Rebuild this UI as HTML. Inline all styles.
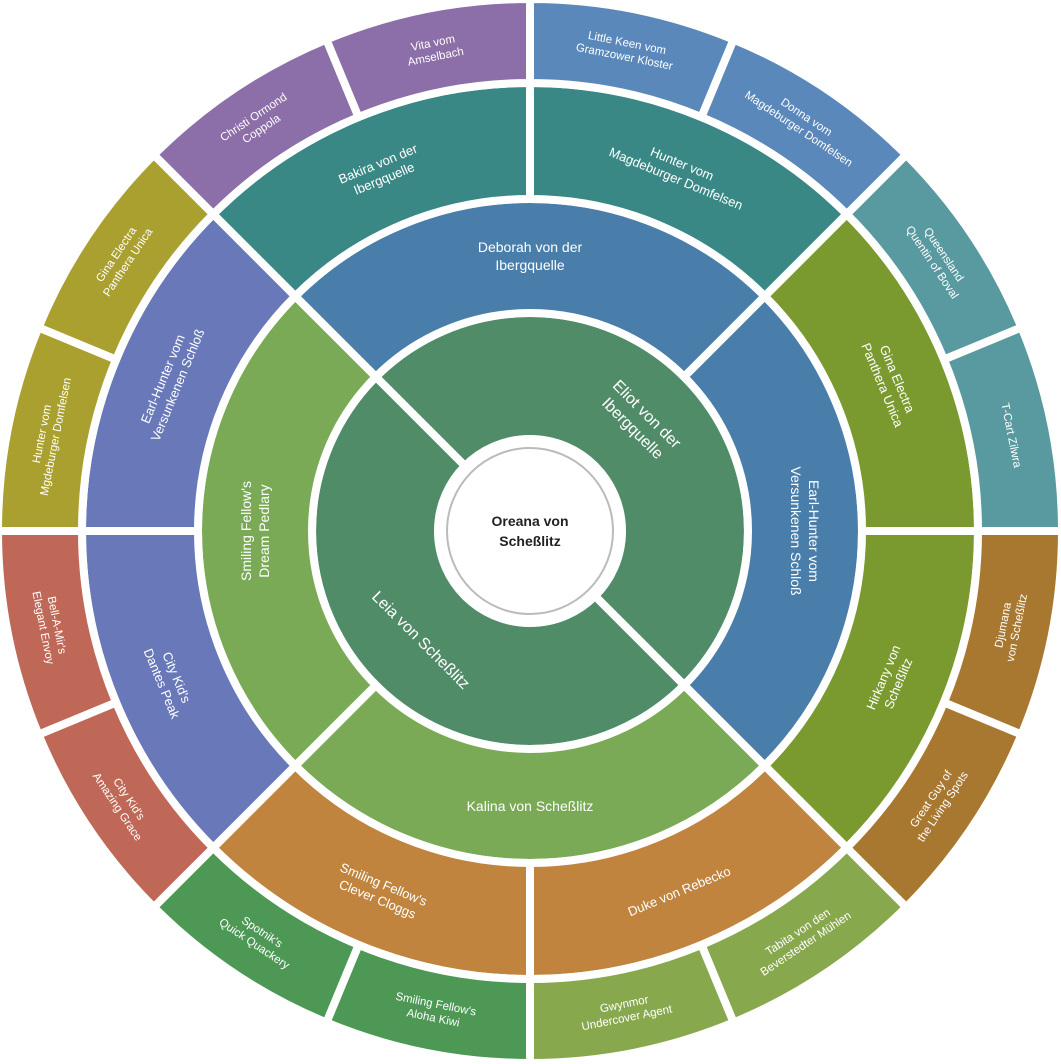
<!DOCTYPE html>
<html><head><meta charset="utf-8"><style>
html,body{margin:0;padding:0;background:#fff;}
svg{display:block;}
text{font-family:"Liberation Sans",sans-serif;fill:#fff;text-anchor:middle;dominant-baseline:central;}
.s path{stroke:#fff;stroke-width:8;stroke-linejoin:miter;}
.l1{font-size:16px;}.l2{font-size:14px;}.l3{font-size:13px;}.l4{font-size:11.5px;}
</style></head><body>
<svg width="1061" height="1064" viewBox="0 0 1061 1064" xmlns="http://www.w3.org/2000/svg">
<defs>
<path id="p1" d="M0,-218 A218,218 0 0 1 0,218 L0,92 A92,92 0 0 0 0,-92 Z"/>
<path id="p2" d="M0,-332 A332,332 0 0 1 332,0 L218,0 A218,218 0 0 0 0,-218 Z"/>
<path id="p3" d="M0,-448 A448,448 0 0 1 316.78,-316.78 L234.76,-234.76 A332,332 0 0 0 0,-332 Z"/>
<path id="p4" d="M0,-532 A532,532 0 0 1 203.59,-491.50 L171.44,-413.90 A448,448 0 0 0 0,-448 Z"/>
</defs>
<g transform="translate(530,531)">
<g class="s">
<use href="#p1" transform="rotate(-45)" fill="#518c69" stroke="#fff" stroke-width="8"/>
<use href="#p1" transform="rotate(135)" fill="#518c69" stroke="#fff" stroke-width="8"/>
<use href="#p2" transform="rotate(-45)" fill="#4a7eaa" stroke="#fff" stroke-width="8"/>
<use href="#p2" transform="rotate(45)" fill="#4a7eaa" stroke="#fff" stroke-width="8"/>
<use href="#p2" transform="rotate(135)" fill="#7aaa56" stroke="#fff" stroke-width="8"/>
<use href="#p2" transform="rotate(225)" fill="#7aaa56" stroke="#fff" stroke-width="8"/>
<use href="#p3" transform="rotate(-45)" fill="#3a8886" stroke="#fff" stroke-width="8"/>
<use href="#p3" transform="rotate(0)" fill="#3a8886" stroke="#fff" stroke-width="8"/>
<use href="#p3" transform="rotate(45)" fill="#7a9a30" stroke="#fff" stroke-width="8"/>
<use href="#p3" transform="rotate(90)" fill="#7a9a30" stroke="#fff" stroke-width="8"/>
<use href="#p3" transform="rotate(135)" fill="#c0843e" stroke="#fff" stroke-width="8"/>
<use href="#p3" transform="rotate(180)" fill="#c0843e" stroke="#fff" stroke-width="8"/>
<use href="#p3" transform="rotate(225)" fill="#6878b8" stroke="#fff" stroke-width="8"/>
<use href="#p3" transform="rotate(270)" fill="#6878b8" stroke="#fff" stroke-width="8"/>
<use href="#p4" transform="rotate(-45)" fill="#8c6ea8" stroke="#fff" stroke-width="8"/>
<use href="#p4" transform="rotate(-22.5)" fill="#8c6ea8" stroke="#fff" stroke-width="8"/>
<use href="#p4" transform="rotate(0)" fill="#5a88ba" stroke="#fff" stroke-width="8"/>
<use href="#p4" transform="rotate(22.5)" fill="#5a88ba" stroke="#fff" stroke-width="8"/>
<use href="#p4" transform="rotate(45)" fill="#589aa0" stroke="#fff" stroke-width="8"/>
<use href="#p4" transform="rotate(67.5)" fill="#589aa0" stroke="#fff" stroke-width="8"/>
<use href="#p4" transform="rotate(90)" fill="#a87830" stroke="#fff" stroke-width="8"/>
<use href="#p4" transform="rotate(112.5)" fill="#a87830" stroke="#fff" stroke-width="8"/>
<use href="#p4" transform="rotate(135)" fill="#88a84e" stroke="#fff" stroke-width="8"/>
<use href="#p4" transform="rotate(157.5)" fill="#88a84e" stroke="#fff" stroke-width="8"/>
<use href="#p4" transform="rotate(180)" fill="#4e9856" stroke="#fff" stroke-width="8"/>
<use href="#p4" transform="rotate(202.5)" fill="#4e9856" stroke="#fff" stroke-width="8"/>
<use href="#p4" transform="rotate(225)" fill="#c06858" stroke="#fff" stroke-width="8"/>
<use href="#p4" transform="rotate(247.5)" fill="#c06858" stroke="#fff" stroke-width="8"/>
<use href="#p4" transform="rotate(270)" fill="#aaa030" stroke="#fff" stroke-width="8"/>
<use href="#p4" transform="rotate(292.5)" fill="#aaa030" stroke="#fff" stroke-width="8"/>
</g>
<circle r="83" fill="#fff" stroke="#bbb" stroke-width="2"/>
<text style="fill:#222;font-size:14px;font-weight:bold"><tspan x="0" y="-10">Oreana von</tspan><tspan x="0" y="10">Scheßlitz</tspan></text>

<text class="l1" transform="rotate(45) translate(0,-155)"><tspan x="0" y="-10">Eliot von der</tspan><tspan x="0" y="10">Ibergquelle</tspan></text>
<text class="l1" transform="rotate(225) translate(0,-155) rotate(-180)">Leia von Scheßlitz</text>

<text class="l2" transform="rotate(0) translate(0,-275)"><tspan x="0" y="-9">Deborah von der</tspan><tspan x="0" y="9">Ibergquelle</tspan></text>
<text class="l2" transform="rotate(90) translate(0,-275)"><tspan x="0" y="-9">Earl-Hunter vom</tspan><tspan x="0" y="9">Versunkenen Schloß</tspan></text>
<text class="l2" transform="rotate(180) translate(0,-275) rotate(-180)">Kalina von Scheßlitz</text>
<text class="l2" transform="rotate(270) translate(0,-275)"><tspan x="0" y="-9">Smiling Fellow's</tspan><tspan x="0" y="9">Dream Pedlary</tspan></text>

<text class="l3" transform="rotate(-22.5) translate(0,-390)"><tspan x="0" y="-8">Bakira von der</tspan><tspan x="0" y="8">Ibergquelle</tspan></text>
<text class="l3" transform="rotate(22.5) translate(0,-390)"><tspan x="0" y="-8">Hunter vom</tspan><tspan x="0" y="8">Magdeburger Domfelsen</tspan></text>
<text class="l3" transform="rotate(67.5) translate(0,-390)"><tspan x="0" y="-8">Gina Electra</tspan><tspan x="0" y="8">Panthera Unica</tspan></text>
<text class="l3" transform="rotate(112.5) translate(0,-390) rotate(-180)"><tspan x="0" y="-8">Hirkany von</tspan><tspan x="0" y="8">Scheßlitz</tspan></text>
<text class="l3" transform="rotate(157.5) translate(0,-390) rotate(-180)">Duke von Rebecko</text>
<text class="l3" transform="rotate(202.5) translate(0,-390) rotate(-180)"><tspan x="0" y="-8">Smiling Fellow's</tspan><tspan x="0" y="8">Clever Cloggs</tspan></text>
<text class="l3" transform="rotate(247.5) translate(0,-390) rotate(-180)"><tspan x="0" y="-8">City Kid's</tspan><tspan x="0" y="8">Dantes Peak</tspan></text>
<text class="l3" transform="rotate(292.5) translate(0,-390)"><tspan x="0" y="-8">Earl-Hunter vom</tspan><tspan x="0" y="8">Versunkenen Schloß</tspan></text>

<text class="l4" transform="rotate(-33.75) translate(0,-490)"><tspan x="0" y="-7">Christi Ormond</tspan><tspan x="0" y="7">Coppola</tspan></text>
<text class="l4" transform="rotate(-11.25) translate(0,-490)"><tspan x="0" y="-7">Vita vom</tspan><tspan x="0" y="7">Amselbach</tspan></text>
<text class="l4" transform="rotate(11.25) translate(0,-490)"><tspan x="0" y="-7">Little Keen vom</tspan><tspan x="0" y="7">Gramzower Kloster</tspan></text>
<text class="l4" transform="rotate(33.75) translate(0,-490)"><tspan x="0" y="-7">Donna vom</tspan><tspan x="0" y="7">Magdeburger Domfelsen</tspan></text>
<text class="l4" transform="rotate(56.25) translate(0,-490)"><tspan x="0" y="-7">Queensland</tspan><tspan x="0" y="7">Quentin of Boval</tspan></text>
<text class="l4" transform="rotate(78.75) translate(0,-490)">T-Cart Zilwra</text>
<text class="l4" transform="rotate(101.25) translate(0,-490) rotate(-180)"><tspan x="0" y="-7">Djumana</tspan><tspan x="0" y="7">von Scheßlitz</tspan></text>
<text class="l4" transform="rotate(123.75) translate(0,-490) rotate(-180)"><tspan x="0" y="-7">Great Guy of</tspan><tspan x="0" y="7">the Living Spots</tspan></text>
<text class="l4" transform="rotate(146.25) translate(0,-490) rotate(-180)"><tspan x="0" y="-7">Tabita von den</tspan><tspan x="0" y="7">Beverstedter Mühlen</tspan></text>
<text class="l4" transform="rotate(168.75) translate(0,-490) rotate(-180)"><tspan x="0" y="-7">Gwynmor</tspan><tspan x="0" y="7">Undercover Agent</tspan></text>
<text class="l4" transform="rotate(191.25) translate(0,-490) rotate(-180)"><tspan x="0" y="-7">Smiling Fellow's</tspan><tspan x="0" y="7">Aloha Kiwi</tspan></text>
<text class="l4" transform="rotate(213.75) translate(0,-490) rotate(-180)"><tspan x="0" y="-7">Spotnik's</tspan><tspan x="0" y="7">Quick Quackery</tspan></text>
<text class="l4" transform="rotate(236.25) translate(0,-490) rotate(-180)"><tspan x="0" y="-7">City Kid's</tspan><tspan x="0" y="7">Amazing Grace</tspan></text>
<text class="l4" transform="rotate(258.75) translate(0,-490) rotate(-180)"><tspan x="0" y="-7">Bell-A-Mir's</tspan><tspan x="0" y="7">Elegant Envoy</tspan></text>
<text class="l4" transform="rotate(281.25) translate(0,-490)"><tspan x="0" y="-7">Hunter vom</tspan><tspan x="0" y="7">Mgdeburger Domfelsen</tspan></text>
<text class="l4" transform="rotate(303.75) translate(0,-490)"><tspan x="0" y="-7">Gina Electra</tspan><tspan x="0" y="7">Panthera Unica</tspan></text>
</g>
</svg>
</body></html>
